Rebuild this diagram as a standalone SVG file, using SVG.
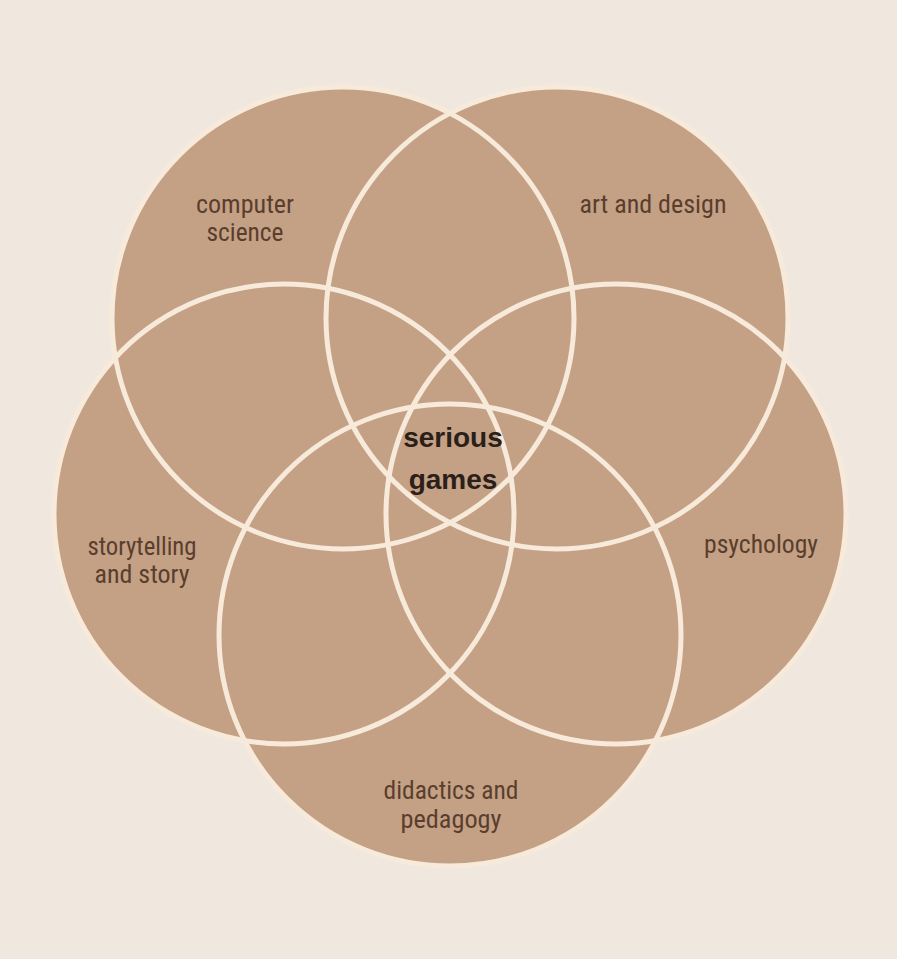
<svg xmlns="http://www.w3.org/2000/svg" xmlns:xlink="http://www.w3.org/1999/xlink" width="897" height="959" viewBox="0 0 897 959">
<style>
.fill{fill:#c4a185;stroke:none}
.ring{fill:none;stroke:#f7eadb;stroke-width:5}
.lbl{font-family:"Liberation Sans Narrow","Roboto Condensed","Liberation Sans",Arial,sans-serif;font-size:26.5px;fill:#5a3e2d;text-anchor:middle}
.core{font-family:"Liberation Sans",Arial,sans-serif;font-size:28px;font-weight:bold;fill:#2a2019;text-anchor:middle}
</style>
<defs>
<circle id="cA" cx="343" cy="318" r="231"/>
<circle id="cB" cx="557" cy="318" r="231"/>
<circle id="cC" cx="284" cy="514" r="230"/>
<circle id="cD" cx="616" cy="514" r="230"/>
<circle id="cE" cx="450" cy="635" r="231"/>
</defs>
<rect x="0" y="0" width="897" height="959" fill="#f0e8df"/>
<g id="node-computer-science">
<use xlink:href="#cA" class="fill"/>
<text class="lbl" x="245" y="213" textLength="98" lengthAdjust="spacingAndGlyphs">computer</text>
<text class="lbl" x="245" y="241" textLength="77" lengthAdjust="spacingAndGlyphs">science</text>
</g>
<g id="node-art-and-design">
<use xlink:href="#cB" class="fill"/>
<text class="lbl" x="653" y="213" textLength="147" lengthAdjust="spacingAndGlyphs">art and design</text>
</g>
<g id="node-storytelling">
<use xlink:href="#cC" class="fill"/>
<text class="lbl" x="142" y="555" textLength="109" lengthAdjust="spacingAndGlyphs">storytelling</text>
<text class="lbl" x="142" y="583" textLength="95" lengthAdjust="spacingAndGlyphs">and story</text>
</g>
<g id="node-psychology">
<use xlink:href="#cD" class="fill"/>
<text class="lbl" x="761" y="553" textLength="114" lengthAdjust="spacingAndGlyphs">psychology</text>
</g>
<g id="node-didactics">
<use xlink:href="#cE" class="fill"/>
<text class="lbl" x="451" y="799" textLength="135" lengthAdjust="spacingAndGlyphs">didactics and</text>
<text class="lbl" x="451" y="828" textLength="101" lengthAdjust="spacingAndGlyphs">pedagogy</text>
</g>
<g id="connectors">
<use xlink:href="#cA" class="ring"/>
<use xlink:href="#cB" class="ring"/>
<use xlink:href="#cC" class="ring"/>
<use xlink:href="#cD" class="ring"/>
<use xlink:href="#cE" class="ring"/>
</g>
<g id="node-serious-games">
<text class="core" x="453" y="447">serious</text>
<text class="core" x="453" y="489">games</text>
</g>
</svg>
